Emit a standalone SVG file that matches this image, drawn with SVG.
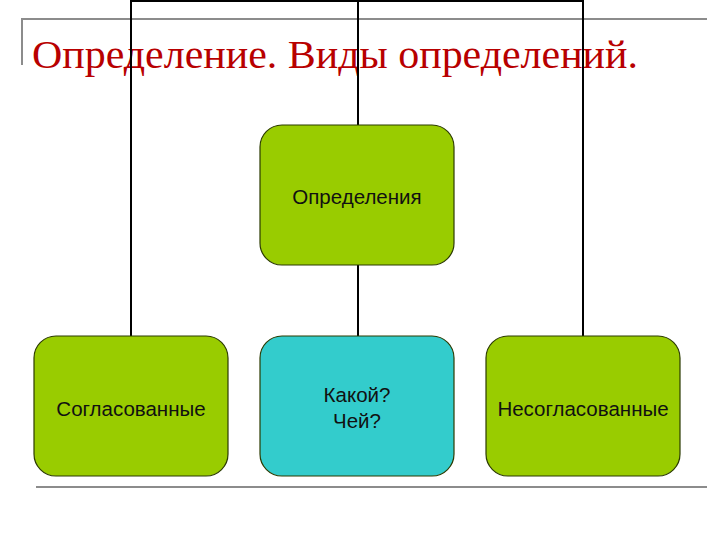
<svg xmlns="http://www.w3.org/2000/svg" width="720" height="540" viewBox="0 0 720 540">
<style>
.box{stroke:#2b3a00;stroke-width:1.2}
.green{fill:#99CC00}
.cyan{fill:#33CCCC}
.lbl{font-family:"Liberation Sans",Arial,sans-serif;font-size:20.5px;fill:#111;text-anchor:middle}
.conn{stroke:#000;stroke-width:2;fill:none}
.rule{stroke:#8c8c8c;stroke-width:2;fill:none}
</style>
<rect width="720" height="540" fill="#fff"/>
<path class="rule" d="M22 65 V19 H707"/>
<path class="rule" d="M36 487 H707"/>
<text x="32" y="68" font-family="'Liberation Serif','Times New Roman',serif" font-size="40" fill="#B80000" textLength="606" lengthAdjust="spacingAndGlyphs">Определение. Виды определений.</text>
<g id="connectors">
<path class="conn" d="M131 336 V1 H583 V336"/>
<path class="conn" d="M358 1 V125"/>
<path class="conn" d="M358 265 V336"/>
</g>
<g id="node-root">
<rect class="box green" x="260" y="125" width="194" height="140" rx="22"/>
<text class="lbl" x="357" y="204">Определения</text>
</g>
<g id="node-agreed">
<rect class="box green" x="34" y="336" width="194" height="140" rx="22"/>
<text class="lbl" x="131" y="416">Согласованные</text>
</g>
<g id="node-question">
<rect class="box cyan" x="260" y="336" width="194" height="140" rx="22"/>
<text class="lbl" x="357" y="402">Какой?</text>
<text class="lbl" x="357" y="428">Чей?</text>
</g>
<g id="node-nonagreed">
<rect class="box green" x="486" y="336" width="194" height="140" rx="22"/>
<text class="lbl" x="583" y="416">Несогласованные</text>
</g>
</svg>
